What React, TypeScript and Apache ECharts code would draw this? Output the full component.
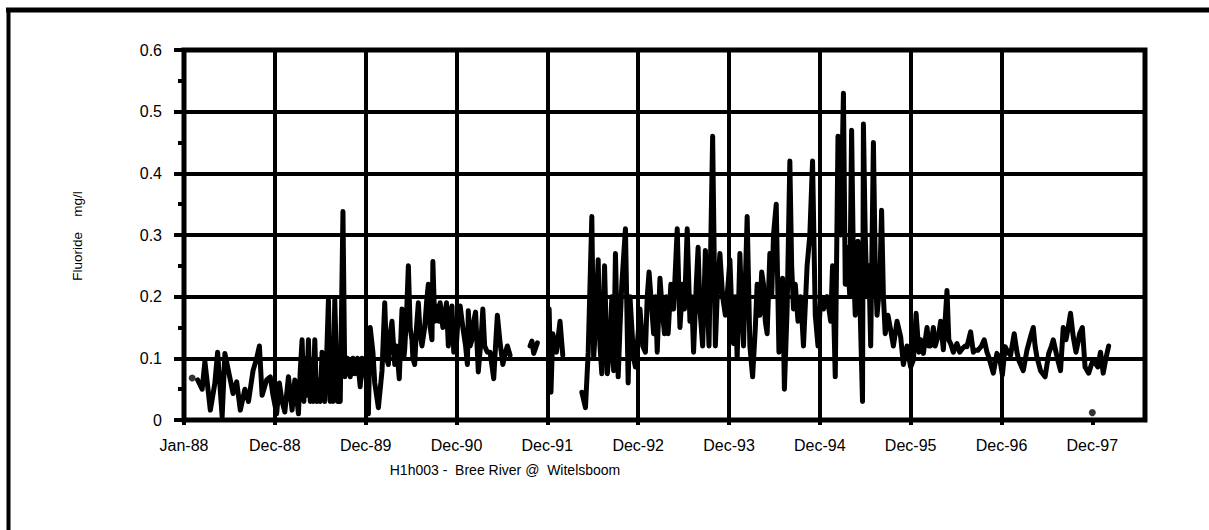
import React, { useEffect, useRef } from "react";
import * as echarts from "echarts";

// x unit: one axis interval (Jan-88 = 0, Dec-88 = 1, ... Dec-97 = 10)
const xTickLabels = ["Jan-88", "Dec-88", "Dec-89", "Dec-90", "Dec-91", "Dec-92", "Dec-93", "Dec-94", "Dec-95", "Dec-96", "Dec-97"];
const yTicks = [0, 0.1, 0.2, 0.3, 0.4, 0.5, 0.6];

const seg1988to1991: [number, number][] = [
  [0.15, 0.065], [0.2, 0.05], [0.23, 0.095], [0.29, 0.016], [0.34, 0.06], [0.37, 0.11], [0.42, 0.005], [0.45, 0.108],
  [0.51, 0.065], [0.54, 0.043], [0.58, 0.062], [0.62, 0.016], [0.67, 0.05], [0.71, 0.03], [0.76, 0.08], [0.8, 0.1],
  [0.83, 0.12], [0.86, 0.04], [0.91, 0.065], [0.95, 0.07], [0.98, 0.04], [1.02, 0.01], [1.05, 0.06], [1.08, 0.03],
  [1.11, 0.013], [1.15, 0.07], [1.19, 0.016], [1.22, 0.065], [1.26, 0.01], [1.28, 0.08], [1.3, 0.13], [1.32, 0.03],
  [1.33, 0.1], [1.35, 0.04], [1.37, 0.13], [1.39, 0.03], [1.41, 0.09], [1.42, 0.03], [1.44, 0.13], [1.46, 0.03],
  [1.48, 0.065], [1.5, 0.03], [1.52, 0.11], [1.55, 0.03], [1.57, 0.1], [1.59, 0.195], [1.61, 0.03], [1.63, 0.1],
  [1.64, 0.03], [1.66, 0.195], [1.69, 0.03], [1.72, 0.03], [1.75, 0.338], [1.77, 0.07], [1.8, 0.1], [1.83, 0.07],
  [1.86, 0.1], [1.88, 0.075], [1.91, 0.1], [1.94, 0.054], [1.96, 0.1], [1.99, 0.086], [2.01, 0.06], [2.03, 0.01],
  [2.05, 0.15], [2.08, 0.11], [2.1, 0.06], [2.14, 0.02], [2.18, 0.08], [2.21, 0.19], [2.23, 0.1], [2.25, 0.09],
  [2.27, 0.14], [2.29, 0.16], [2.32, 0.09], [2.34, 0.12], [2.37, 0.067], [2.4, 0.18], [2.42, 0.1], [2.43, 0.115],
  [2.45, 0.17], [2.47, 0.25], [2.49, 0.15], [2.51, 0.13], [2.52, 0.1], [2.54, 0.09], [2.56, 0.15], [2.58, 0.19],
  [2.6, 0.14], [2.62, 0.12], [2.65, 0.15], [2.67, 0.19], [2.69, 0.22], [2.71, 0.15], [2.73, 0.13], [2.74, 0.257],
  [2.76, 0.16], [2.79, 0.185], [2.81, 0.16], [2.82, 0.19], [2.85, 0.15], [2.87, 0.17], [2.89, 0.19], [2.91, 0.12],
  [2.93, 0.16], [2.95, 0.185], [2.97, 0.11], [3.0, 0.125], [3.02, 0.17], [3.04, 0.185], [3.07, 0.15], [3.1, 0.12],
  [3.12, 0.09], [3.13, 0.177], [3.15, 0.12], [3.17, 0.13], [3.19, 0.16], [3.21, 0.175], [3.24, 0.078], [3.27, 0.13],
  [3.29, 0.18], [3.31, 0.12], [3.34, 0.11], [3.37, 0.11], [3.41, 0.067], [3.43, 0.12], [3.45, 0.17], [3.48, 0.125],
  [3.51, 0.09], [3.54, 0.11], [3.56, 0.12], [3.59, 0.105],
];

const seg1991a: [number, number][] = [[3.81, 0.12], [3.83, 0.128], [3.85, 0.108], [3.89, 0.125]];

const seg1991b: [number, number][] = [[4.02, 0.18], [4.04, 0.045], [4.06, 0.14], [4.1, 0.11], [4.14, 0.16], [4.17, 0.105]];

const seg1992to1998: [number, number][] = [
  [4.38, 0.045], [4.42, 0.02], [4.45, 0.11], [4.49, 0.33], [4.51, 0.1], [4.53, 0.15], [4.56, 0.26], [4.58, 0.12],
  [4.6, 0.075], [4.63, 0.25], [4.66, 0.075], [4.69, 0.12], [4.71, 0.2], [4.73, 0.08], [4.75, 0.27], [4.78, 0.07],
  [4.8, 0.15], [4.82, 0.22], [4.86, 0.31], [4.89, 0.06], [4.91, 0.2], [4.93, 0.15], [4.95, 0.1], [4.97, 0.086],
  [5.0, 0.14], [5.02, 0.18], [5.05, 0.12], [5.08, 0.11], [5.1, 0.2], [5.12, 0.24], [5.15, 0.18], [5.17, 0.14],
  [5.19, 0.2], [5.21, 0.11], [5.24, 0.23], [5.27, 0.17], [5.29, 0.14], [5.31, 0.2], [5.33, 0.14], [5.36, 0.22],
  [5.39, 0.18], [5.43, 0.31], [5.45, 0.2], [5.46, 0.15], [5.49, 0.22], [5.51, 0.18], [5.54, 0.31], [5.57, 0.16],
  [5.59, 0.2], [5.61, 0.11], [5.64, 0.22], [5.66, 0.28], [5.68, 0.18], [5.71, 0.12], [5.74, 0.275], [5.76, 0.2],
  [5.78, 0.12], [5.82, 0.46], [5.85, 0.12], [5.87, 0.2], [5.9, 0.27], [5.93, 0.2], [5.96, 0.17], [5.99, 0.22],
  [6.01, 0.26], [6.03, 0.18], [6.05, 0.124], [6.07, 0.2], [6.09, 0.1], [6.12, 0.27], [6.14, 0.18], [6.16, 0.12],
  [6.2, 0.33], [6.23, 0.12], [6.26, 0.07], [6.29, 0.15], [6.31, 0.22], [6.34, 0.17], [6.36, 0.24], [6.38, 0.22],
  [6.4, 0.16], [6.42, 0.14], [6.45, 0.27], [6.47, 0.2], [6.49, 0.3], [6.52, 0.35], [6.55, 0.11], [6.57, 0.2],
  [6.59, 0.23], [6.61, 0.05], [6.64, 0.18], [6.67, 0.42], [6.69, 0.25], [6.71, 0.18], [6.73, 0.22], [6.76, 0.16],
  [6.79, 0.2], [6.82, 0.12], [6.86, 0.25], [6.89, 0.3], [6.92, 0.42], [6.95, 0.17], [6.98, 0.12], [7.01, 0.2],
  [7.04, 0.18], [7.08, 0.2], [7.12, 0.16], [7.14, 0.25], [7.17, 0.07], [7.2, 0.46], [7.23, 0.3], [7.26, 0.53],
  [7.28, 0.22], [7.3, 0.28], [7.33, 0.2], [7.35, 0.47], [7.37, 0.25], [7.39, 0.17], [7.42, 0.29], [7.44, 0.2],
  [7.47, 0.03], [7.48, 0.48], [7.5, 0.3], [7.52, 0.2], [7.54, 0.25], [7.56, 0.12], [7.59, 0.45], [7.61, 0.25],
  [7.63, 0.17], [7.66, 0.22], [7.68, 0.34], [7.7, 0.2], [7.72, 0.14], [7.75, 0.17], [7.78, 0.146], [7.81, 0.12],
  [7.85, 0.16], [7.89, 0.135], [7.92, 0.09], [7.96, 0.12], [8.0, 0.086], [8.03, 0.097], [8.06, 0.173], [8.09, 0.11],
  [8.11, 0.13], [8.14, 0.108], [8.18, 0.15], [8.2, 0.12], [8.22, 0.12], [8.25, 0.15], [8.27, 0.12], [8.29, 0.13],
  [8.31, 0.14], [8.33, 0.16], [8.36, 0.114], [8.4, 0.21], [8.42, 0.13], [8.44, 0.124], [8.47, 0.11], [8.51, 0.124],
  [8.54, 0.11], [8.57, 0.116], [8.6, 0.12], [8.62, 0.119], [8.66, 0.143], [8.69, 0.11], [8.71, 0.113], [8.74, 0.113],
  [8.78, 0.12], [8.81, 0.13], [8.84, 0.11], [8.86, 0.102], [8.91, 0.076], [8.95, 0.108], [8.98, 0.1], [9.01, 0.073],
  [9.04, 0.119], [9.07, 0.11], [9.1, 0.105], [9.14, 0.14], [9.17, 0.11], [9.19, 0.097], [9.24, 0.08], [9.28, 0.113],
  [9.32, 0.135], [9.35, 0.15], [9.37, 0.12], [9.39, 0.102], [9.43, 0.08], [9.48, 0.07], [9.52, 0.108], [9.55, 0.12],
  [9.57, 0.13], [9.62, 0.097], [9.65, 0.08], [9.68, 0.15], [9.71, 0.13], [9.73, 0.146], [9.76, 0.173], [9.79, 0.135],
  [9.82, 0.11], [9.84, 0.124], [9.86, 0.14], [9.89, 0.15], [9.92, 0.086], [9.96, 0.076], [9.99, 0.09], [10.01, 0.097],
  [10.06, 0.086], [10.09, 0.11], [10.12, 0.076], [10.15, 0.1], [10.18, 0.12],
];

const isolatedPoints: [number, number][] = [[0.09, 0.068], [10.0, 0.012]];

const xMax = 10.58;
const titleText = "H1h003 -  Bree River @  Witelsboom";
const yAxisTitle = "Fluoride    mg/l";

export default function App() {
  const ref = useRef<HTMLDivElement>(null);
  useEffect(() => {
    if (!ref.current) return;
    const chart = echarts.init(ref.current, undefined, { renderer: "svg" });
    const lineData: any[] = [];
    [seg1988to1991, seg1991a, seg1991b, seg1992to1998].forEach((seg, i) => {
      if (i > 0) lineData.push([seg[0][0] - 0.01, "-"]);
      seg.forEach((p) => lineData.push(p));
    });
    const splitColors = xTickLabels.map((_, i) => (i === 10 ? "transparent" : "#000"));
    splitColors.push("#000");
    const font = "'Liberation Sans', Arial, sans-serif";
    chart.setOption({
      animation: false,
      backgroundColor: "#fff",
      grid: { left: 184, right: 64, top: 50, bottom: 110, show: true, borderColor: "#000", borderWidth: 5, backgroundColor: "transparent" },
      xAxis: {
        type: "value",
        min: 0,
        max: xMax,
        interval: 1,
        axisLine: { show: true, onZero: false, lineStyle: { color: "#000", width: 4 } },
        axisTick: { show: true, length: 5, lineStyle: { color: "#000", width: 4 } },
        axisLabel: {
          color: "#000",
          fontSize: 16,
          fontFamily: font,
          margin: 17,
          showMaxLabel: false,
          formatter: (v: number) => (Number.isInteger(v) && xTickLabels[v] !== undefined ? xTickLabels[v] : ""),
        },
        splitLine: { show: true, lineStyle: { color: splitColors, width: 4 } },
      },
      yAxis: {
        type: "value",
        min: yTicks[0],
        max: yTicks[yTicks.length - 1],
        interval: 0.1,
        axisLine: { show: true, lineStyle: { color: "#000", width: 4 } },
        axisTick: { show: true, length: 10, lineStyle: { color: "#000", width: 4 } },
        minorTick: { show: true, splitNumber: 2, length: 6, lineStyle: { color: "#000", width: 4 } },
        axisLabel: { color: "#000", fontSize: 16, fontFamily: font, margin: 22 },
        splitLine: { show: true, lineStyle: { color: "#000", width: 4 } },
      },
      graphic: [
        { type: "line", shape: { x1: 6, y1: 10, x2: 1215, y2: 10 }, style: { stroke: "#000", lineWidth: 5 } },
        { type: "line", shape: { x1: 8.5, y1: 8, x2: 8.5, y2: 530 }, style: { stroke: "#000", lineWidth: 4 } },
        {
          type: "text",
          x: 505,
          y: 470,
          style: { text: titleText, fill: "#000", font: `14px ${font}`, textAlign: "center", textVerticalAlign: "middle" },
        },
        {
          type: "text",
          x: 77,
          y: 236,
          rotation: Math.PI / 2,
          style: { text: yAxisTitle, fill: "#000", font: `13.5px ${font}`, textAlign: "center", textVerticalAlign: "middle" },
        },
      ],
      series: [
        {
          type: "line",
          data: lineData,
          showSymbol: false,
          connectNulls: false,
          lineStyle: { color: "#000", width: 5, cap: "round", join: "round" },
          z: 3,
        },
        {
          type: "scatter",
          data: isolatedPoints,
          symbolSize: 7,
          itemStyle: { color: "#000" },
          z: 4,
        },
      ],
    });
    return () => chart.dispose();
  }, []);
  return <div ref={ref} style={{ position: "absolute", left: 0, top: 0, width: 1209, height: 530, background: "#fff" }} />;
}
